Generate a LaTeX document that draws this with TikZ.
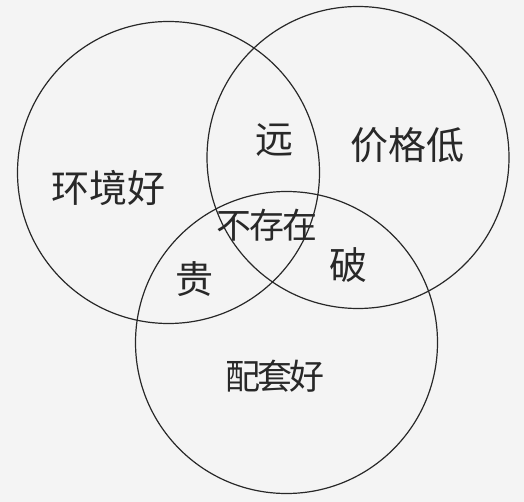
\documentclass[tikz,border=0pt]{standalone}
\usepackage{fontspec}
\newfontfamily\cjk{Noto Sans CJK SC}
\definecolor{bg}{RGB}{244,244,244}
\definecolor{ink}{RGB}{40,40,40}
\begin{document}
\begin{tikzpicture}[x=1pt,y=-1pt,
  ring/.style={circle,draw=ink,line width=1.2pt,inner sep=0pt,minimum size=302pt},
  lab/.style={inner sep=0pt,text=ink,font=\cjk\fontsize{38}{40}\selectfont},
  small/.style={inner sep=0pt,text=ink,font=\cjk\fontsize{35}{37}\selectfont}]
\fill[bg] (0,0) rectangle (524,502);
\useasboundingbox (0,0) rectangle (524,502);
\node[ring] (L) at (168.5,172.5) {};
\node[ring] (R) at (358,157.5) {};
\node[ring] (B) at (286.5,342.5) {};
\node[lab] (env) at (108,188) {环境好};
\node[lab] (price) at (407,145) {价格低};
\node[lab] (far) at (274,140) {远};
\node[small] (none) at (267,225) {不\kern-2pt 存\kern-2pt 在};
\node[lab] (exp) at (194,279) {贵};
\node[lab] (bad) at (348,265) {破};
\node[small] (fac) at (275,376) {配\kern-3pt 套\kern-3pt 好};
\end{tikzpicture}
\end{document}
